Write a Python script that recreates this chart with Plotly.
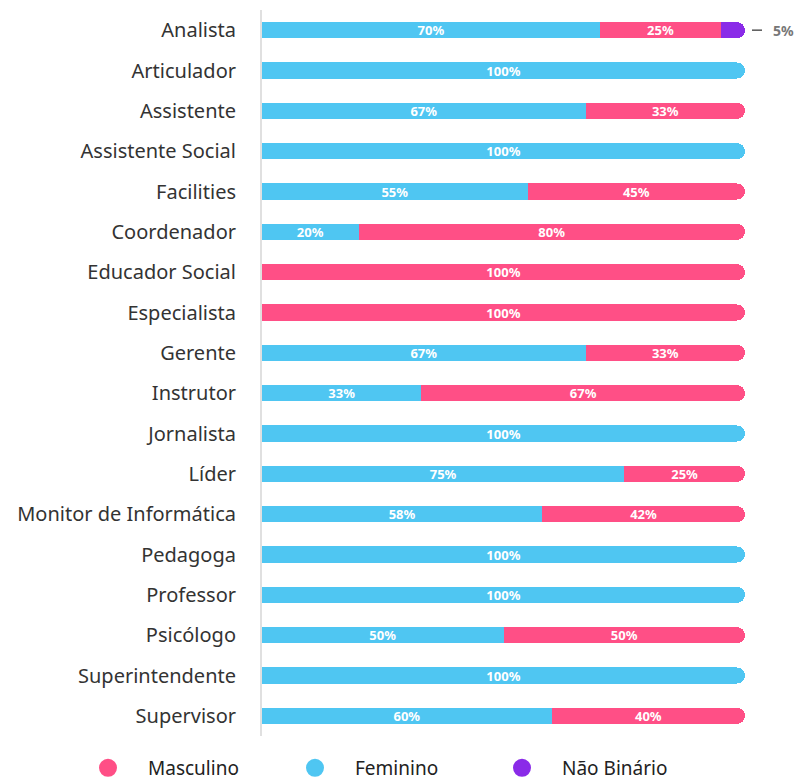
import plotly.graph_objects as go

cargos = ["Analista", "Articulador", "Assistente", "Assistente Social", "Facilities",
          "Coordenador", "Educador Social", "Especialista", "Gerente", "Instrutor",
          "Jornalista", "Líder", "Monitor de Informática", "Pedagoga", "Professor",
          "Psicólogo", "Superintendente", "Supervisor"]
feminino = [70, 100, 67, 100, 55, 20, 0, 0, 67, 33, 100, 75, 58, 100, 100, 50, 100, 60]
masculino = [25, 0, 33, 0, 45, 80, 100, 100, 33, 67, 0, 25, 42, 0, 0, 50, 0, 40]
nao_binario = [5, 0, 0, 0, 0, 0, 0, 0, 0, 0, 0, 0, 0, 0, 0, 0, 0, 0]

COR_FEM = "#4fc6f2"
COR_MASC = "#ff4f86"
COR_NB = "#8a2be8"
FONTE = "Noto Sans"

PLOT_L, PLOT_R = 262, 745
PLOT_T, PLOT_B = 10, 736
PLOT_W = PLOT_R - PLOT_L
PLOT_H = PLOT_B - PLOT_T


def rotulos(vals):
    return [f"{v}%" if v > 0 else "" for v in vals]


fig = go.Figure()
for nome, vals, cor in [("Feminino", feminino, COR_FEM),
                        ("Masculino", masculino, COR_MASC)]:
    fig.add_trace(go.Bar(
        y=cargos, x=vals, orientation="h", name=nome,
        marker=dict(color=cor, line=dict(width=0), cornerradius=8),
        text=rotulos(vals), textposition="inside", insidetextanchor="middle",
        constraintext="none",
        textfont=dict(family=FONTE, size=13, color="white", weight="bold"),
        showlegend=False, hoverinfo="skip"))
fig.add_trace(go.Bar(
    y=cargos, x=nao_binario, orientation="h", name="Não Binário",
    marker=dict(color=COR_NB, line=dict(width=0), cornerradius=8),
    showlegend=False, hoverinfo="skip"))

# legend entries with round markers
for nome, cor in [("Masculino", COR_MASC), ("Feminino", COR_FEM), ("Não Binário", COR_NB)]:
    fig.add_trace(go.Scatter(
        x=[None], y=[None], mode="markers", name=nome,
        marker=dict(color=cor, size=16, symbol="circle", line=dict(color=cor, width=2))))

# outside label for the small non-binary segment
for cargo, v, f, m in zip(cargos, nao_binario, feminino, masculino):
    if v > 0:
        fim = (f + m + v) / 100
        fig.add_shape(type="line", xref="paper", yref="y",
                      x0=fim + 7 / PLOT_W, x1=fim + 17 / PLOT_W, y0=cargo, y1=cargo,
                      line=dict(color="#555", width=1.5))
        fig.add_annotation(x=fim + 26 / PLOT_W, y=cargo, xref="paper", yref="y",
                           xanchor="left", text=f"{v}%", showarrow=False,
                           font=dict(family=FONTE, size=14, color="#777", weight="bold"))

fig.update_layout(
    barmode="stack", bargap=0.6,
    width=796, height=780,
    margin=dict(l=PLOT_L, r=796 - PLOT_R, t=PLOT_T, b=780 - PLOT_B, autoexpand=False),
    paper_bgcolor="white", plot_bgcolor="white",
    font=dict(family=FONTE, size=20, color="#333"),
    uniformtext=dict(minsize=13, mode="show"),
    legend=dict(orientation="h", traceorder="normal",
                x=(68 - PLOT_L) / PLOT_W, xanchor="left",
                y=-(787 - PLOT_B) / PLOT_H, yanchor="bottom",
                itemwidth=70, entrywidth=122,
                font=dict(family=FONTE, size=19, color="#222")),
    xaxis=dict(range=[0, 100], visible=False, fixedrange=True),
    yaxis=dict(autorange="reversed", showline=True, linecolor="#e0e0e0", linewidth=2,
               ticks="", showgrid=False, ticklabelstandoff=20,
               tickfont=dict(family=FONTE, size=20, color="#333")),
)

fig.write_html("out.html")
